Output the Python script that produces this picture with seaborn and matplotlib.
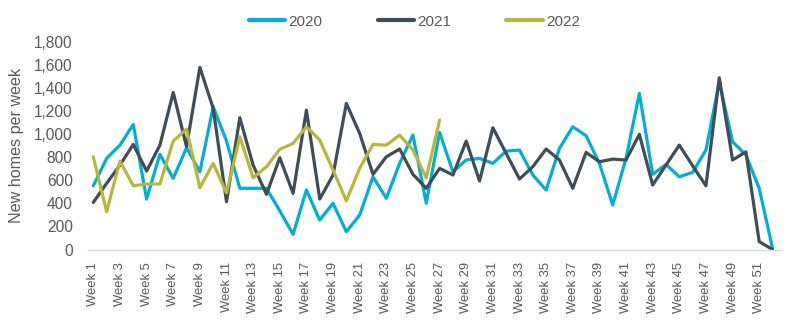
import matplotlib
matplotlib.use("Agg")
import matplotlib.pyplot as plt
import seaborn as sns
import pandas as pd

weeks = list(range(1, 53))
week_labels = [f"Week {w}" for w in weeks]

y2020 = [552, 789, 904, 1083, 437, 824, 616, 881, 673, 1236,
         940, 530, 530, 530, 335, 131, 515, 255, 400, 154,
         299, 630, 443, 746, 991, 400, 1014, 673, 775, 789,
         746, 852, 861, 645, 515, 876, 1063, 985, 746, 385,
         790, 1352, 651, 737, 630, 668, 861, 1452, 933, 818,
         530, 10]
y2021 = [408, 573, 731, 910, 679, 904, 1360, 890, 1577, 1222,
         414, 1141, 730, 478, 795, 486, 1207, 437, 645, 1265,
         1005, 651, 803, 870, 651, 530, 703, 645, 939, 593,
         1054, 832, 610, 717, 870, 775, 530, 841, 760, 783,
         775, 997, 558, 731, 904, 725, 552, 1487, 775, 846,
         68, 0]
y2022 = [803, 327, 766, 552, 567, 567, 939, 1043, 535, 746,
         490, 976, 621, 717, 867, 919, 1063, 948, 688, 422,
         703, 910, 904, 991, 861, 621, 1121]

series = {"2020": y2020, "2021": y2021, "2022": y2022}
colors = {"2020": "#00AED8", "2021": "#3F4D59", "2022": "#B7B83B"}

rows = []
for name, vals in series.items():
    for w, v in zip(weeks, vals):
        rows.append({"week": w, "value": v, "year": name})
df = pd.DataFrame(rows)

sns.set_style("white")
plt.rcParams["font.family"] = ["Liberation Sans", "DejaVu Sans"]

fig = plt.figure(figsize=(8, 3.31), dpi=100)
ax = fig.add_axes([0.11, 0.2462, 0.866, 0.628])

sns.lineplot(data=df, x="week", y="value", hue="year", palette=colors,
             linewidth=2.3, ax=ax, legend=False, sort=False)

ax.set_xlim(0.6, 52.62)
ax.set_ylim(0, 1800)
ax.set_yticks(range(0, 1801, 200))
ax.set_yticklabels([f"{v:,}" for v in range(0, 1801, 200)], fontsize=11.2, color="#595959")
ax.set_xticks(weeks[::2])
ax.set_xticklabels(week_labels[::2], rotation=90, fontsize=9.4, color="#595959")
ax.tick_params(axis="y", length=0, pad=11)
ax.tick_params(axis="x", length=0, pad=9)
ax.set_xlabel("")
ax.set_ylabel("New homes per week", fontsize=11.6, color="#595959", labelpad=7)

for s in ["top", "right", "left"]:
    ax.spines[s].set_visible(False)
ax.spines["bottom"].set_color("#D9D9D9")
ax.spines["bottom"].set_linewidth(1.0)

from matplotlib.lines import Line2D
handles = [Line2D([0], [0], color=colors[k], lw=3) for k in series]
fig.legend(handles, list(series.keys()), loc="center", bbox_to_anchor=(0.518, 0.935),
           ncol=3, frameon=False, fontsize=11, handlelength=2.4,
           handletextpad=0.2, columnspacing=3.6, labelcolor="#595959")

fig.savefig("out.png", dpi=100)
